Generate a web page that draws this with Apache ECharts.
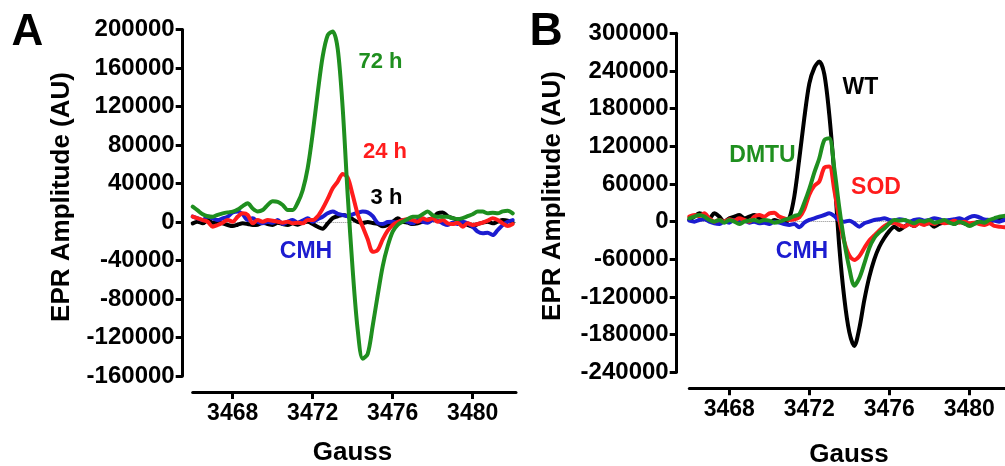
<!DOCTYPE html>
<html><head><meta charset="utf-8">
<script src="https://cdn.jsdelivr.net/npm/echarts@6/dist/echarts.min.js"></script>
<style>html,body{margin:0;padding:0;background:#fff}#c{width:1005px;height:466px}</style>
</head><body><div id="c"></div>
<script>
// Magnetic field (Gauss) sample positions shared by all traces
const gauss = [3466,3466.25,3466.5,3466.75,3467,3467.25,3467.5,3467.75,3468,3468.25,3468.5,3468.75,3469,3469.25,3469.5,3469.75,3470,3470.25,3470.5,3470.75,3471,3471.25,3471.5,3471.75,3472,3472.25,3472.5,3472.75,3473,3473.25,3473.5,3473.75,3474,3474.25,3474.5,3474.75,3475,3475.25,3475.5,3475.75,3476,3476.25,3476.5,3476.75,3477,3477.25,3477.5,3477.75,3478,3478.25,3478.5,3478.75,3479,3479.25,3479.5,3479.75,3480,3480.25,3480.5,3480.75,3481,3481.25,3481.5,3481.75,3482];
const xTickValues = [3468,3472,3476,3480];

// Panel A
const a72h = [16000,12000,8000,6000,5500,7500,9000,10000,10800,13000,16500,19500,14000,11000,12500,17700,21500,21000,17700,12500,12500,20000,
  33000,56000,92000,134000,172000,194000,198000,180000,118000,28000,-50000,-112000,-142000,-137000,-108000,-76000,-46000,-25000,-10000,-3000,300,
  3000,5500,5500,8000,10800,7000,5500,5500,5500,4000,3000,4000,6000,8000,10800,10800,9000,9700,9000,11000,11800,9000];
const a24h = [5600,3800,2000,300,-4900,-3100,-700,2000,300,5600,9000,7300,-1400,2000,300,2000,1400,300,-700,300,-1400,-700,-1400,2000,
  2000,6000,14000,24000,35000,42000,50000,46000,28000,8000,-5000,-18000,-31000,-29000,-18000,-9000,-3000,0,
  2000,2800,2000,300,3800,2000,3800,300,2000,-1400,-2100,-700,-4900,-1400,-3100,-2100,-700,1400,3800,2000,-1400,-4200,-2100];
const a3h = [-1400,300,-1400,2000,-700,300,-1400,-3100,-4200,-2800,-1400,-2100,-3100,-2800,-700,-2100,-3100,-700,-2100,-3100,-1400,-2800,-700,300,-2100,
  -5000,-7000,-1500,4000,6000,7300,6000,3000,0,-1000,0,-1000,-2000,-4500,-3000,0,
  3800,300,-700,-2100,-1400,300,2500,4000,9000,10000,6000,4000,2000,-700,-3100,-4900,-2100,-700,300,-1400,300,2000,1400,-700];
const aCMH = [5600,3800,2000,5600,3800,2000,3800,5600,10000,11000,8000,2000,3800,300,-1400,300,-700,2000,-2100,300,2000,-700,1400,3800,
  300,3000,5500,9000,10800,8500,7300,6000,8000,9500,10800,10000,6000,-1000,-2000,
  0,300,-700,2000,300,-1400,2000,300,-700,2000,1400,-1400,-3100,-700,-2100,300,-1400,-4900,-10000,-11800,-11100,-13600,-8400,-3100,300,2000];

// Panel B
const bWT = [2700,8000,13300,10600,5300,13300,8000,0,5300,8000,10600,5300,8000,10600,5300,1600,-2700,2700,0,-1600,5300,40000,
  100000,165000,220000,245000,255000,235000,170000,75000,-40000,-122000,-176000,-198000,-170000,-125000,-88000,-60000,-40000,-26000,-15000,-8000,
  -13300,-8000,-3700,-6900,-1600,-3700,-2700,-8000,-3700,-1600,0,-3700,0,-2700,-5300,-2700,0,-1600,0,2700,4000,6000,7000];
const bDMTU = [5300,8000,10600,8000,2700,0,2700,-1600,2700,0,-3700,0,1600,2700,0,2700,1600,-1600,0,2700,5300,9000,
  12000,30000,52000,78000,101000,130000,133000,85000,22000,-32000,-74000,-102000,-90000,-67000,-42000,-26000,-17000,-11000,-3000,2700,
  1600,2700,0,-2700,1600,0,2700,-1600,0,2700,-1600,-3700,0,-2700,-6900,-3700,0,-1600,2700,5300,8000,9000,10600];
const bSOD = [8000,10600,9000,13300,5300,0,2700,0,3700,1600,5300,2700,0,8000,10600,8000,13300,14300,8000,5300,2700,3700,
  7000,20000,43000,57000,64000,86000,88000,50000,3000,-32000,-54000,-61000,-55000,-42000,-30000,-22000,-14000,-7000,-2700,-1600,
  -5300,-8000,-3700,-6900,-2700,-5300,-1600,-3700,0,-2700,-1600,1600,-1600,0,-2700,-1600,-3700,-5300,-2700,-6900,-8000,-9000,-8000];
const bCMH = [1600,0,2700,3700,0,-2700,-3700,0,-1600,2700,0,1600,-1600,0,-2700,-1600,-3700,0,-1600,-3700,
  -5300,-3700,-9000,-1600,2700,5300,8000,10600,13300,9000,1600,0,1600,-2700,-8000,-2700,0,2700,3700,5300,
  2700,1600,3700,2700,0,2700,3700,1600,2700,5300,3700,1600,2700,3700,5300,2700,6900,9000,6900,3700,2700,1600,0,2700,3700];

const FF = '"Liberation Sans", Arial, Helvetica, sans-serif';
const GREEN = '#1f8f1f', RED = '#ff1c1c', BLUE = '#1c1cd0', BLACK = '#000000';

function pts(arr){ return gauss.map((g,i)=>[g, arr[i]]); }
function line(name, arr, color, idx, withZero){
  const s = {name, type:'line', xAxisIndex:idx, yAxisIndex:idx, data:pts(arr), showSymbol:false, smooth:0.3,
    lineStyle:{color, width:4, join:'round', cap:'round'}, itemStyle:{color}, clip:true, z:3};
  if (withZero) s.markLine = {silent:true, symbol:'none', label:{show:false}, lineStyle:{type:'dotted', color:'#8a8a8a', width:1}, data:[{yAxis:0}], z:1};
  return s;
}
function xAx(idx, max){
  return {gridIndex:idx, type:'value', min:3466, max, offset:16,
    axisLine:{show:true, onZero:false, lineStyle:{color:'#000', width:3}},
    axisTick:{show:true, customValues:xTickValues, length:7, lineStyle:{color:'#000', width:3}},
    axisLabel:{customValues:xTickValues, margin:10, fontSize:23, fontWeight:'bold', color:'#000', fontFamily:FF, formatter:v=>String(v)},
    splitLine:{show:false}};
}
function yAx(idx, min, max, interval, offset){
  return {gridIndex:idx, type:'value', min, max, interval, offset,
    axisLine:{show:true, onZero:false, lineStyle:{color:'#000', width:3}},
    axisTick:{show:true, length:7, lineStyle:{color:'#000', width:3}},
    axisLabel:{margin:8, fontSize:24, fontWeight:'bold', color:'#000', fontFamily:FF, formatter:v=>String(v)},
    splitLine:{show:false}};
}
function txt(text, x, y, color, size, rot){
  return {type:'text', x, y, rotation:rot||0, style:{text, fill:color, font:'bold '+size+'px '+FF, align:'center', verticalAlign:'middle'}};
}

const chart = echarts.init(document.getElementById('c'));
chart.setOption({
  animation:false,
  backgroundColor:'#fff',
  grid:[{left:192.7, top:29.5, width:323.3, height:346.5},
        {left:689.3, top:33.3, width:315.7, height:339}],
  xAxis:[xAx(0, 3482.165), xAx(1, 3481.785)],
  yAxis:[yAx(0, -160000, 200000, 40000, 10), yAx(1, -240000, 300000, 60000, 12.6)],
  series:[
    line('3 h', a3h, BLACK, 0, true),
    line('CMH', aCMH, BLUE, 0),
    line('24 h', a24h, RED, 0),
    line('72 h', a72h, GREEN, 0),
    line('WT', bWT, BLACK, 1, true),
    line('CMH', bCMH, BLUE, 1),
    line('SOD', bSOD, RED, 1),
    line('DMTU', bDMTU, GREEN, 1)
  ],
  graphic:[
    txt('A', 27.5, 33, '#000', 44),
    txt('B', 546, 32, '#000', 46),
    txt('EPR Amplitude (AU)', 62, 197, '#000', 26, Math.PI/2),
    txt('EPR Amplitude (AU)', 553, 196, '#000', 26, Math.PI/2),
    txt('Gauss', 352.5, 453, '#000', 26),
    txt('Gauss', 849, 455, '#000', 26),
    txt('72 h', 380.5, 62, GREEN, 22),
    txt('24 h', 385, 152, RED, 22),
    txt('3 h', 386.5, 198, BLACK, 22),
    txt('CMH', 306, 252, BLUE, 23),
    txt('WT', 860.5, 88, BLACK, 23),
    txt('DMTU', 762.5, 156, GREEN, 23),
    txt('SOD', 876, 188, RED, 23),
    txt('CMH', 802, 252, BLUE, 23)
  ]
});
</script></body></html>
